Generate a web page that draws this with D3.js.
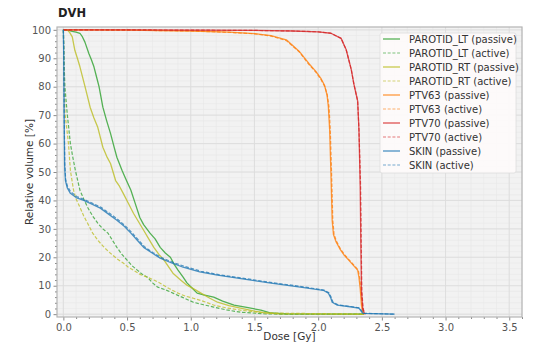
<!DOCTYPE html>
<html>
<head>
<meta charset="utf-8">
<script src="https://cdn.jsdelivr.net/npm/d3@7"></script>
<style>
  html, body { margin: 0; padding: 0; background: #fff; }
  svg { display: block; font-family: "DejaVu Sans", sans-serif; }
</style>
</head>
<body>
<svg id="chart" width="535" height="345"></svg>
<script>
// Dose-volume histogram: cumulative volume (%) versus dose (Gy)
const xTicks = [0.0, 0.5, 1.0, 1.5, 2.0, 2.5, 3.0, 3.5];
const yTicks = [0, 10, 20, 30, 40, 50, 60, 70, 80, 90, 100];

const parotidLtPassiveDose = [0, 0.04, 0.07, 0.1, 0.13, 0.15, 0.17, 0.2, 0.22, 0.24, 0.26, 0.28, 0.31, 0.34, 0.37, 0.4, 0.42, 0.46, 0.49, 0.53, 0.56, 0.6, 0.63, 0.68, 0.72, 0.76, 0.8, 0.84, 0.87, 0.9, 0.94, 0.97, 1.01, 1.05, 1.1, 1.18, 1.25, 1.34, 1.45, 1.55, 1.63, 1.75, 2.36];
const parotidLtPassiveVol  = [100, 99.8, 99.5, 99.2, 98.8, 97.5, 95.6, 91.7, 89.5, 87, 83.5, 80, 72.8, 68, 63.6, 58.5, 55.2, 50.6, 47.5, 43.6, 39.5, 34, 31.5, 28.5, 26.5, 23.5, 21.5, 20, 17.5, 15.5, 13, 11, 9.2, 7.4, 6.8, 6, 4.6, 3.2, 2.3, 1.4, 0.4, 0.1, 0];

const parotidLtActiveDose = [0, 0.003, 0.006, 0.012, 0.03, 0.055, 0.075, 0.094, 0.13, 0.16, 0.19, 0.23, 0.27, 0.31, 0.35, 0.42, 0.46, 0.5, 0.54, 0.58, 0.62, 0.66, 0.7, 0.74, 0.8, 0.86, 0.94, 1.02, 1.1, 1.18, 1.28, 1.39, 1.6, 2.36];
const parotidLtActiveVol  = [100, 95, 88, 80, 70.6, 60, 55, 50.6, 43.6, 40.5, 37.6, 34.5, 32, 30, 28.5, 23.5, 21, 19, 17, 15.5, 14, 13, 11, 9.5, 8.6, 7.4, 5.8, 4.2, 3.3, 2.5, 1.5, 0.7, 0.05, 0];

const parotidRtPassiveDose = [0, 0.03, 0.05, 0.07, 0.09, 0.11, 0.13, 0.17, 0.21, 0.24, 0.27, 0.31, 0.34, 0.37, 0.41, 0.44, 0.47, 0.51, 0.55, 0.59, 0.63, 0.67, 0.71, 0.75, 0.79, 0.86, 0.92, 0.97, 1.02, 1.08, 1.15, 1.21, 1.3, 1.39, 1.5, 1.6, 1.7, 2.36];
const parotidRtPassiveVol  = [100, 100, 99, 97.5, 92.8, 90, 87, 80, 72.8, 69, 65.7, 58.7, 55.5, 53, 47, 45, 42.5, 39, 35.5, 32.5, 29.5, 26.5, 23.5, 21, 19, 14.4, 12, 10.2, 9, 7.4, 5.6, 4.2, 3, 2.1, 1.1, 0.4, 0.1, 0];

const parotidRtActiveDose = [0, 0.003, 0.006, 0.013, 0.04, 0.055, 0.08, 0.1, 0.13, 0.16, 0.19, 0.23, 0.27, 0.32, 0.37, 0.42, 0.47, 0.51, 0.55, 0.6, 0.66, 0.71, 0.76, 0.83, 0.9, 0.96, 1.02, 1.1, 1.18, 1.28, 1.39, 1.5, 1.6, 2.36];
const parotidRtActiveVol  = [100, 92, 82, 70.6, 60, 50.6, 43.6, 40.5, 37.6, 34.5, 32, 28.5, 26, 23.5, 21.4, 19.5, 18, 16.5, 15.5, 14, 13, 12, 10.9, 9, 7.4, 6.3, 5.6, 4.5, 3.2, 2.2, 1.4, 0.8, 0.4, 0];

const ptv63PassiveDose = [0, 0.5, 1.0, 1.3, 1.5, 1.63, 1.75, 1.85, 1.93, 1.98, 2.02, 2.05, 2.07, 2.08, 2.09, 2.1, 2.11, 2.12, 2.14, 2.17, 2.2, 2.24, 2.28, 2.31, 2.32, 2.33, 2.34, 2.35, 2.36];
const ptv63PassiveVol  = [100, 99.9, 99.6, 99.2, 98.7, 98, 96.5, 92.5, 88, 85.5, 83, 80.5, 77, 73, 65, 50, 33, 28, 25.5, 23, 21, 19, 17, 15.5, 13, 9, 3, 0.5, 0];

const ptv63ActiveDose = [0, 0.5, 1.0, 1.3, 1.5, 1.63, 1.75, 1.85, 1.93, 1.98, 2.02, 2.05, 2.07, 2.085, 2.095, 2.105, 2.115, 2.125, 2.145, 2.175, 2.205, 2.245, 2.285, 2.315, 2.325, 2.335, 2.345, 2.355, 2.365];
const ptv63ActiveVol  = [100, 99.9, 99.6, 99.1, 98.6, 97.8, 96.2, 92.3, 87.7, 85.2, 82.7, 80.2, 77.5, 73, 65, 50, 33, 28, 25.5, 23, 21, 19, 17, 15.5, 13, 9, 3, 0.5, 0];

const ptv70PassiveDose = [0, 0.5, 1.0, 1.5, 1.8, 2.0, 2.1, 2.18, 2.22, 2.26, 2.28, 2.3, 2.31, 2.32, 2.325, 2.33, 2.335, 2.34, 2.35, 2.36, 2.37];
const ptv70PassiveVol  = [100, 100, 99.9, 99.8, 99.6, 99.3, 98.8, 97, 93, 86, 81, 77, 75, 65, 55, 45, 25, 8, 2, 0.5, 0];

const ptv70ActiveDose = [0, 0.5, 1.0, 1.5, 1.8, 2.0, 2.1, 2.18, 2.22, 2.26, 2.28, 2.3, 2.31, 2.32, 2.327, 2.333, 2.338, 2.343, 2.353, 2.363, 2.373];
const ptv70ActiveVol  = [100, 100, 99.9, 99.8, 99.6, 99.3, 98.8, 97, 93, 86, 81, 77, 75, 65, 55, 45, 25, 8, 2, 0.5, 0];

const skinPassiveDose = [0, 0.003, 0.006, 0.01, 0.016, 0.03, 0.055, 0.1, 0.16, 0.22, 0.29, 0.36, 0.42, 0.48, 0.53, 0.58, 0.63, 0.7, 0.76, 0.85, 0.94, 1.07, 1.21, 1.42, 1.63, 1.86, 2.04, 2.08, 2.1, 2.11, 2.15, 2.25, 2.32, 2.35, 2.6];
const skinPassiveVol  = [100, 90, 70, 52, 47, 44.5, 42.5, 41, 40, 38.8, 37.3, 35, 33, 30.8, 28.5, 26, 23.5, 21.4, 19.7, 18, 16.5, 14.9, 13.7, 12.3, 10.9, 9.5, 8.4, 7.4, 5.6, 4.2, 3.2, 2.6, 2.1, 0.3, 0];

const skinActiveDose = [0, 0.003, 0.006, 0.011, 0.018, 0.032, 0.058, 0.105, 0.165, 0.225, 0.295, 0.365, 0.425, 0.485, 0.535, 0.585, 0.635, 0.705, 0.77, 0.86, 0.95, 1.08, 1.22, 1.43, 1.64, 1.87, 2.045, 2.085, 2.105, 2.115, 2.155, 2.255, 2.325, 2.355, 2.6];
const skinActiveVol  = [100, 91, 72, 53, 47.5, 45, 43, 41.4, 40.3, 39.1, 37.6, 35.4, 33.4, 31.1, 28.8, 26.3, 23.8, 21.6, 19.9, 18.2, 16.8, 15.1, 13.9, 12.5, 11.1, 9.7, 8.5, 7.5, 5.7, 4.3, 3.3, 2.7, 2.2, 0.3, 0];

const seriesNames = [
  "PAROTID_LT (passive)", "PAROTID_LT (active)",
  "PAROTID_RT (passive)", "PAROTID_RT (active)",
  "PTV63 (passive)", "PTV63 (active)",
  "PTV70 (passive)", "PTV70 (active)",
  "SKIN (passive)", "SKIN (active)"
];
const seriesDose = [parotidLtPassiveDose, parotidLtActiveDose, parotidRtPassiveDose, parotidRtActiveDose,
  ptv63PassiveDose, ptv63ActiveDose, ptv70PassiveDose, ptv70ActiveDose, skinPassiveDose, skinActiveDose];
const seriesVol = [parotidLtPassiveVol, parotidLtActiveVol, parotidRtPassiveVol, parotidRtActiveVol,
  ptv63PassiveVol, ptv63ActiveVol, ptv70PassiveVol, ptv70ActiveVol, skinPassiveVol, skinActiveVol];
const structureColors = ["#2ca02c", "#2ca02c", "#bcbd22", "#bcbd22", "#ff7f0e", "#ff7f0e", "#d62728", "#d62728", "#1f77b4", "#1f77b4"];

const series = seriesNames.map((name, i) => ({
  name,
  dashed: name.includes("active") && !name.includes("passive"),
  color: structureColors[i],
  points: seriesDose[i].map((d, j) => ({ dose: d, vol: seriesVol[i][j] }))
}));

const svg = d3.select("#chart");
const plot = { left: 57, right: 522, top: 27, bottom: 317 };

const x = d3.scaleLinear().domain([-0.05, 3.6]).range([plot.left, plot.right]);
const y = d3.scaleLinear().domain([-1, 101]).range([plot.bottom, plot.top]);

// Plot background
svg.append("rect")
  .attr("x", plot.left).attr("y", plot.top)
  .attr("width", plot.right - plot.left).attr("height", plot.bottom - plot.top)
  .attr("fill", "#f2f2f2");

const xMinor = d3.range(0, 3.61, 0.1);
const yMinor = d3.range(0, 101, 2);

// Minor grid
const grid = svg.append("g");
grid.selectAll(".xm").data(xMinor).join("line")
  .attr("x1", d => x(d)).attr("x2", d => x(d))
  .attr("y1", plot.top).attr("y2", plot.bottom)
  .attr("stroke", "#e8e8e8").attr("stroke-width", 0.6);
grid.selectAll(".ym").data(yMinor).join("line")
  .attr("x1", plot.left).attr("x2", plot.right)
  .attr("y1", d => y(d)).attr("y2", d => y(d))
  .attr("stroke", "#e8e8e8").attr("stroke-width", 0.6);
// Major grid
grid.selectAll(".xM").data(xTicks).join("line")
  .attr("x1", d => x(d)).attr("x2", d => x(d))
  .attr("y1", plot.top).attr("y2", plot.bottom)
  .attr("stroke", "#dcdcdc").attr("stroke-width", 0.9);
grid.selectAll(".yM").data(yTicks).join("line")
  .attr("x1", plot.left).attr("x2", plot.right)
  .attr("y1", d => y(d)).attr("y2", d => y(d))
  .attr("stroke", "#dcdcdc").attr("stroke-width", 0.9);

// Curves
const line = d3.line().x(d => x(d.dose)).y(d => y(d.vol));
const curves = svg.append("g");
series.forEach(s => {
  curves.append("path")
    .datum(s.points)
    .attr("d", line)
    .attr("fill", "none")
    .attr("stroke", s.color)
    .attr("stroke-opacity", s.dashed ? 0.75 : 0.8)
    .attr("stroke-width", s.dashed ? 1.2 : 1.3)
    .attr("stroke-dasharray", s.dashed ? "3.5,1.8" : null)
    .attr("stroke-linejoin", "round");
});

// Axes
const axisColor = "#8a8a8a";
const xAxis = svg.append("g").attr("transform", `translate(0,${plot.bottom})`)
  .call(d3.axisBottom(x).tickValues(xTicks).tickFormat(d3.format(".1f")).tickSizeOuter(0).tickSize(3.5).tickPadding(3));
const yAxis = svg.append("g").attr("transform", `translate(${plot.left},0)`)
  .call(d3.axisLeft(y).tickValues(yTicks).tickFormat(d3.format("d")).tickSizeOuter(0).tickSize(3.5).tickPadding(2.5));
svg.append("g").attr("transform", `translate(0,${plot.bottom})`)
  .call(d3.axisBottom(x).tickValues(xMinor.filter(v => Math.round(v * 10) % 5 !== 0)).tickFormat("").tickSizeOuter(0).tickSize(2))
  .call(g => g.select(".domain").remove())
  .selectAll("line").attr("stroke", axisColor);
svg.append("g").attr("transform", `translate(${plot.left},0)`)
  .call(d3.axisLeft(y).tickValues(yMinor.filter(v => v % 10 !== 0)).tickFormat("").tickSizeOuter(0).tickSize(2))
  .call(g => g.select(".domain").remove())
  .selectAll("line").attr("stroke", axisColor);

[xAxis, yAxis].forEach(g => {
  g.select(".domain").remove();
  g.selectAll("line").attr("stroke", axisColor);
  g.selectAll("text").attr("fill", "#555").attr("font-size", "10px")
    .attr("font-family", "DejaVu Sans, sans-serif");
});

// Frame
svg.append("rect")
  .attr("x", plot.left).attr("y", plot.top)
  .attr("width", plot.right - plot.left).attr("height", plot.bottom - plot.top)
  .attr("fill", "none").attr("stroke", "#b4b4b4").attr("stroke-width", 1.2);

// Title and axis labels
svg.append("text").attr("x", 58).attr("y", 17)
  .attr("font-size", "11.5px").attr("font-weight", "bold").attr("fill", "#222")
  .text("DVH");
svg.append("text")
  .attr("x", (plot.left + plot.right) / 2).attr("y", 340)
  .attr("text-anchor", "middle").attr("font-size", "10.5px").attr("fill", "#333")
  .text("Dose [Gy]");
svg.append("text")
  .attr("transform", `translate(33,${(plot.top + plot.bottom) / 2}) rotate(-90)`)
  .attr("text-anchor", "middle").attr("font-size", "10.5px").attr("fill", "#333")
  .text("Relative volume [%]");

// Legend
const legend = svg.append("g").attr("transform", "translate(380,33)");
legend.append("rect")
  .attr("width", 136).attr("height", 140).attr("rx", 2)
  .attr("fill", "#fdfafa").attr("fill-opacity", 0.95)
  .attr("stroke", "#dddddd").attr("stroke-width", 0.8);
series.forEach((s, i) => {
  const row = legend.append("g").attr("transform", `translate(0,${6 + i * 14})`);
  row.append("line")
    .attr("x1", 3).attr("x2", 20).attr("y1", 0).attr("y2", 0)
    .attr("stroke", s.color)
    .attr("stroke-opacity", s.dashed ? 0.6 : 0.65)
    .attr("stroke-width", s.dashed ? 1.1 : 1.6)
    .attr("stroke-dasharray", s.dashed ? "3,1.7" : null);
  row.append("text")
    .attr("x", 29).attr("y", 0).attr("dy", "0.35em")
    .attr("font-size", "10px").attr("fill", "#333")
    .text(s.name);
});
</script>
</body>
</html>
